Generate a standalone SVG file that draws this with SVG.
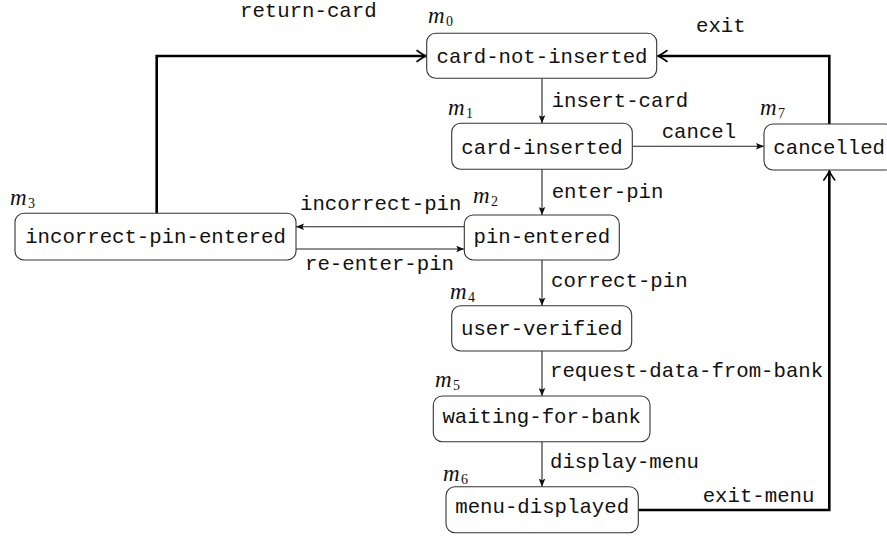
<svg xmlns="http://www.w3.org/2000/svg" width="887" height="536" viewBox="0 0 887 536">
  <style>
    .box { fill: #ffffff; stroke: #333333; stroke-width: 1.1; }
    .tt { font-family: "Liberation Mono", "DejaVu Sans Mono", monospace; font-size: 20.7px; fill: #111111; }
    .mid { text-anchor: middle; }
    .math { font-family: "Liberation Serif", "DejaVu Serif", serif; font-style: italic; font-size: 23px; fill: #111111; }
    .sub { font-style: normal; font-size: 14px; }
    .thin { fill: none; stroke: #222222; stroke-width: 1.1; marker-end: url(#tip); }
    .thick { fill: none; stroke: #000000; stroke-width: 2.6; stroke-linejoin: miter; marker-end: url(#barb); }
  </style>
  <defs>
    <marker id="tip" markerUnits="userSpaceOnUse" viewBox="-8 -3.5 8 7" refX="0" refY="0" markerWidth="8" markerHeight="7" orient="auto">
      <path d="M-8,-3.3 L0,0 L-8,3.3 L-6.5,0 z" fill="#111111"/>
    </marker>
    <marker id="barb" markerUnits="userSpaceOnUse" viewBox="-11 -7 13 14" refX="0" refY="0" markerWidth="13" markerHeight="14" orient="auto" overflow="visible">
      <path d="M-9,-5.5 Q-3,-1.2 0,0 Q-3,1.2 -9,5.5" fill="none" stroke="#000000" stroke-width="1.6" stroke-linecap="round"/>
    </marker>
  </defs>

  <!-- transitions -->
  <g id="connectors">
    <line class="thin" x1="542" y1="78.3" x2="542" y2="123.3"/>
    <line class="thin" x1="542" y1="169.3" x2="542" y2="215"/>
    <line class="thin" x1="542" y1="260" x2="542" y2="305.7"/>
    <line class="thin" x1="542" y1="351" x2="542" y2="396"/>
    <line class="thin" x1="542" y1="441.7" x2="542" y2="486.7"/>
    <line class="thin" x1="632.3" y1="146.3" x2="764" y2="146.3"/>
    <line class="thin" x1="464.3" y1="226.7" x2="296" y2="226.7"/>
    <line class="thin" x1="296" y1="249" x2="464.3" y2="249"/>
    <polyline class="thick" points="156.7,213.3 156.7,56 426,56"/>
    <polyline class="thick" points="829.3,124 829.3,56 658,56"/>
    <polyline class="thick" points="638.3,510 829.3,510 829.3,171"/>

    <text class="tt" x="240" y="17">return-card</text>
    <text class="tt" x="696" y="32">exit</text>
    <text class="tt" x="551.7" y="107.3">insert-card</text>
    <text class="tt" x="661.7" y="138.3">cancel</text>
    <text class="tt" x="551.7" y="197.5">enter-pin</text>
    <text class="tt" x="300" y="210">incorrect-pin</text>
    <text class="tt" x="305" y="270">re-enter-pin</text>
    <text class="tt" x="551" y="286.7">correct-pin</text>
    <text class="tt" x="550" y="377.3">request-data-from-bank</text>
    <text class="tt" x="550" y="468.3">display-menu</text>
    <text class="tt" x="702.7" y="501.7">exit-menu</text>
  </g>

  <!-- states -->
  <g id="m0">
    <rect class="box" x="426.7" y="33.3" width="230" height="45" rx="9"/>
    <text class="tt mid" x="542" y="63.3">card-not-inserted</text>
    <text class="math" x="428" y="23">m<tspan class="sub" x="446" y="26">0</tspan></text>
  </g>
  <g id="m1">
    <rect class="box" x="451.7" y="123.3" width="180.6" height="46" rx="9"/>
    <text class="tt mid" x="542" y="154">card-inserted</text>
    <text class="math" x="448" y="115">m<tspan class="sub" x="466" y="118">1</tspan></text>
  </g>
  <g id="m7">
    <rect class="box" x="764" y="124" width="130" height="46" rx="9"/>
    <text class="tt" x="773.3" y="153.5">cancelled</text>
    <text class="math" x="760" y="115">m<tspan class="sub" x="778" y="118">7</tspan></text>
  </g>
  <g id="m2">
    <rect class="box" x="464.3" y="215" width="155" height="45" rx="9"/>
    <text class="tt mid" x="541.8" y="242.5">pin-entered</text>
    <text class="math" x="473" y="203">m<tspan class="sub" x="491" y="206">2</tspan></text>
  </g>
  <g id="m3">
    <rect class="box" x="15" y="213.3" width="281" height="46.7" rx="9"/>
    <text class="tt mid" x="155.5" y="243.3">incorrect-pin-entered</text>
    <text class="math" x="10" y="205">m<tspan class="sub" x="28" y="208">3</tspan></text>
  </g>
  <g id="m4">
    <rect class="box" x="451.7" y="305.7" width="180" height="45.3" rx="9"/>
    <text class="tt mid" x="541.7" y="335">user-verified</text>
    <text class="math" x="450" y="299">m<tspan class="sub" x="468" y="302">4</tspan></text>
  </g>
  <g id="m5">
    <rect class="box" x="433.3" y="396" width="216.7" height="45.7" rx="9"/>
    <text class="tt mid" x="541.7" y="423.3">waiting-for-bank</text>
    <text class="math" x="435" y="387">m<tspan class="sub" x="453" y="390">5</tspan></text>
  </g>
  <g id="m6">
    <rect class="box" x="446" y="486.7" width="192.3" height="46" rx="9"/>
    <text class="tt mid" x="542.2" y="513.3">menu-displayed</text>
    <text class="math" x="443" y="481">m<tspan class="sub" x="461" y="484">6</tspan></text>
  </g>
</svg>
